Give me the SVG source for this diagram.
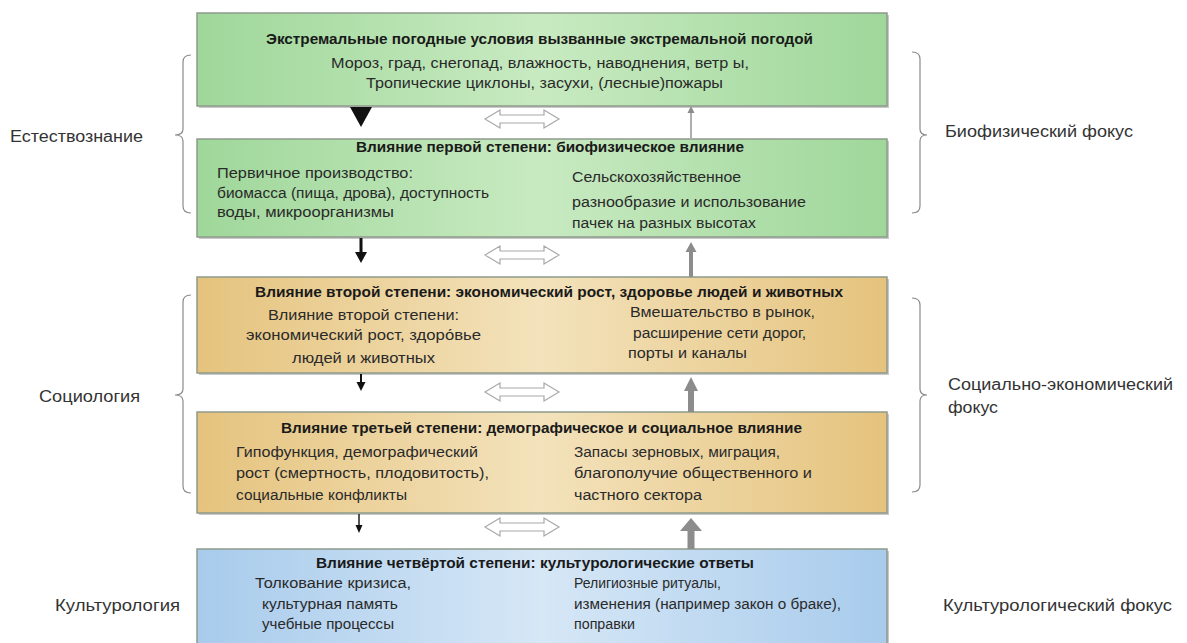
<svg xmlns="http://www.w3.org/2000/svg" width="1187" height="643" viewBox="0 0 1187 643">
<defs>
<linearGradient id="gGreen" x1="0" y1="0" x2="1" y2="0">
<stop offset="0" stop-color="#9fd79a"/><stop offset="0.5" stop-color="#c8eac1"/><stop offset="1" stop-color="#9fd79a"/>
</linearGradient>
<linearGradient id="gTan" x1="0" y1="0" x2="1" y2="0">
<stop offset="0" stop-color="#e5c37e"/><stop offset="0.5" stop-color="#f3e2bb"/><stop offset="1" stop-color="#e5c37e"/>
</linearGradient>
<linearGradient id="gBlue" x1="0" y1="0" x2="1" y2="0">
<stop offset="0" stop-color="#a8cbec"/><stop offset="0.5" stop-color="#d6e7f6"/><stop offset="1" stop-color="#a8cbec"/>
</linearGradient>
</defs>
<style>
.box{stroke:#8f9a8c;stroke-width:1.5}
.shadow{fill:#c9c9c9}
.title{font-family:"Liberation Sans",Arial,sans-serif;font-weight:bold;font-size:14px;fill:#1a1a1a}
.body{font-family:"Liberation Sans",Arial,sans-serif;font-size:14px;fill:#2a2a2a}
.side{font-family:"Liberation Sans",Arial,sans-serif;font-size:16px;fill:#333}
.brace{fill:none;stroke:#8a8a8a;stroke-width:1.2}
.dbl{fill:#fff;stroke:#a8a8a8;stroke-width:1.2}
.blk{fill:#111}
.gry{fill:#8c8c8c}
</style>
<rect width="1187" height="643" fill="#fff"/>

<g id="side-labels">
<text class="side" x="10" y="142" textLength="133" lengthAdjust="spacingAndGlyphs">Естествознание</text>
<text class="side" x="39" y="402" textLength="101" lengthAdjust="spacingAndGlyphs">Социология</text>
<text class="side" x="55" y="611" textLength="125" lengthAdjust="spacingAndGlyphs">Культурология</text>
<text class="side" x="945" y="137" textLength="188" lengthAdjust="spacingAndGlyphs">Биофизический фокус</text>
<text class="side" x="948" y="390" textLength="225" lengthAdjust="spacingAndGlyphs">Социально-экономический</text>
<text class="side" x="948" y="413" textLength="50" lengthAdjust="spacingAndGlyphs">фокус</text>
<text class="side" x="943" y="611" textLength="229" lengthAdjust="spacingAndGlyphs">Культурологический фокус</text>
</g>

<g id="braces">
<path class="brace" d="M191,55 Q183,55 183,62 L183,129 Q183,135 175,135 Q183,135 183,141 L183,206 Q183,213 191,213"/>
<path class="brace" d="M191,295 Q183,295 183,302 L183,389 Q183,395 175,395 Q183,395 183,401 L183,486 Q183,493 191,493"/>
<path class="brace" d="M912,52 Q920,52 920,59 L920,129 Q920,135 927,135 Q920,135 920,141 L920,206 Q920,213 912,213"/>
<path class="brace" d="M912,298 Q920,298 920,305 L920,389 Q920,395 927,395 Q920,395 920,401 L920,485 Q920,492 912,492"/>
</g>

<g id="node1">
<rect class="shadow" x="199" y="15" width="690" height="93"/>
<rect class="box" x="197" y="13" width="690" height="93" fill="url(#gGreen)"/>
<text class="title" x="266" y="44" textLength="547" lengthAdjust="spacingAndGlyphs">Экстремальные погодные условия вызванные экстремальной погодой</text>
<text class="body" x="331" y="68" textLength="418" lengthAdjust="spacingAndGlyphs">Мороз, град, снегопад, влажность, наводнения, ветр ы,</text>
<text class="body" x="366" y="88" textLength="357" lengthAdjust="spacingAndGlyphs">Тропические циклоны, засухи, (лесные)пожары</text>
</g>

<g id="node2">
<rect class="shadow" x="199" y="141" width="690" height="98"/>
<rect class="box" x="197" y="139" width="690" height="98" fill="url(#gGreen)"/>
<text class="title" x="356" y="152" textLength="388" lengthAdjust="spacingAndGlyphs">Влияние первой степени: биофизическое влияние</text>
<text class="body" x="217" y="178" textLength="196" lengthAdjust="spacingAndGlyphs">Первичное производство:</text>
<text class="body" x="217" y="198" textLength="272" lengthAdjust="spacingAndGlyphs">биомасса (пища, дрова), доступность</text>
<text class="body" x="217" y="217" textLength="177" lengthAdjust="spacingAndGlyphs">воды, микроорганизмы</text>
<text class="body" x="572" y="182" textLength="169" lengthAdjust="spacingAndGlyphs">Сельскохозяйственное</text>
<text class="body" x="572" y="207" textLength="234" lengthAdjust="spacingAndGlyphs">разнообразие и использование</text>
<text class="body" x="572" y="228" textLength="184" lengthAdjust="spacingAndGlyphs">пачек на разных высотах</text>
</g>

<g id="node3">
<rect class="shadow" x="199" y="279" width="690" height="96"/>
<rect class="box" x="197" y="277" width="690" height="96" fill="url(#gTan)"/>
<text class="title" x="255" y="297" textLength="588" lengthAdjust="spacingAndGlyphs">Влияние второй степени: экономический рост, здоровье людей и животных</text>
<text class="body" x="268" y="320" textLength="191" lengthAdjust="spacingAndGlyphs">Влияние второй степени:</text>
<text class="body" x="246" y="340" textLength="235" lengthAdjust="spacingAndGlyphs">экономический рост, здоро́вье</text>
<text class="body" x="292" y="363" textLength="143" lengthAdjust="spacingAndGlyphs">людей и животных</text>
<text class="body" x="630" y="317" textLength="185" lengthAdjust="spacingAndGlyphs">Вмешательство в рынок,</text>
<text class="body" x="633" y="338" textLength="173" lengthAdjust="spacingAndGlyphs">расширение сети дорог,</text>
<text class="body" x="628" y="358" textLength="119" lengthAdjust="spacingAndGlyphs">порты и каналы</text>
</g>

<g id="node4">
<rect class="shadow" x="199" y="414" width="690" height="101"/>
<rect class="box" x="197" y="412" width="690" height="101" fill="url(#gTan)"/>
<text class="title" x="281" y="433" textLength="521" lengthAdjust="spacingAndGlyphs">Влияние третьей степени: демографическое и социальное влияние</text>
<text class="body" x="236" y="457" textLength="242" lengthAdjust="spacingAndGlyphs">Гипофункция, демографический</text>
<text class="body" x="236" y="478" textLength="253" lengthAdjust="spacingAndGlyphs">рост (смертность, плодовитость),</text>
<text class="body" x="236" y="500" textLength="171" lengthAdjust="spacingAndGlyphs">социальные конфликты</text>
<text class="body" x="574" y="457" textLength="206" lengthAdjust="spacingAndGlyphs">Запасы зерновых, миграция,</text>
<text class="body" x="574" y="478" textLength="238" lengthAdjust="spacingAndGlyphs">благополучие общественного и</text>
<text class="body" x="574" y="500" textLength="128" lengthAdjust="spacingAndGlyphs">частного сектора</text>
</g>

<g id="node5">
<rect class="shadow" x="199" y="551" width="690" height="100"/>
<rect class="box" x="197" y="549" width="690" height="100" fill="url(#gBlue)"/>
<text class="title" x="316" y="568" textLength="438" lengthAdjust="spacingAndGlyphs">Влияние четвёртой степени: культурологические ответы</text>
<text class="body" x="255" y="588" textLength="156" lengthAdjust="spacingAndGlyphs">Толкование кризиса,</text>
<text class="body" x="262" y="609" textLength="136" lengthAdjust="spacingAndGlyphs">культурная память</text>
<text class="body" x="262" y="629" textLength="132" lengthAdjust="spacingAndGlyphs">учебные процессы</text>
<text class="body" x="574" y="588" textLength="147" lengthAdjust="spacingAndGlyphs">Религиозные ритуалы,</text>
<text class="body" x="574" y="609" textLength="267" lengthAdjust="spacingAndGlyphs">изменения (например закон о браке),</text>
<text class="body" x="574" y="629" textLength="61" lengthAdjust="spacingAndGlyphs">поправки</text>
</g>

<g id="connectors">
<polygon class="blk" points="350,107 372,107 361,127"/>
<rect class="blk" x="359.5" y="238" width="3" height="15"/>
<polygon class="blk" points="355,252 367,252 361,263"/>
<rect class="blk" x="360" y="374" width="2" height="9"/>
<polygon class="blk" points="356.5,382 365.5,382 361,391"/>
<rect class="blk" x="358.3" y="514" width="1.4" height="12"/>
<polygon class="blk" points="355.5,525 362.5,525 359,533"/>
<rect class="gry" x="690.3" y="112" width="1.4" height="26"/>
<polygon class="gry" points="687.5,113 694.5,113 691,106"/>
<rect class="gry" x="689" y="251" width="4" height="26"/>
<polygon class="gry" points="685.5,252 696.5,252 691,242"/>
<rect class="gry" x="688" y="390" width="6" height="22"/>
<polygon class="gry" points="684,391 698,391 691,377"/>
<rect class="gry" x="687.5" y="530" width="7" height="19"/>
<polygon class="gry" points="680,531 702,531 691,518"/>
<polygon class="dbl" points="485,119 500,110 500,115 544,115 544,110 559,119 544,128 544,123 500,123 500,128"/>
<polygon class="dbl" points="485,255 500,246 500,251 544,251 544,246 559,255 544,264 544,259 500,259 500,264"/>
<polygon class="dbl" points="485,392 500,383 500,388 544,388 544,383 559,392 544,401 544,396 500,396 500,401"/>
<polygon class="dbl" points="485,527 500,518 500,523 544,523 544,518 559,527 544,536 544,531 500,531 500,536"/>
</g>
</svg>
